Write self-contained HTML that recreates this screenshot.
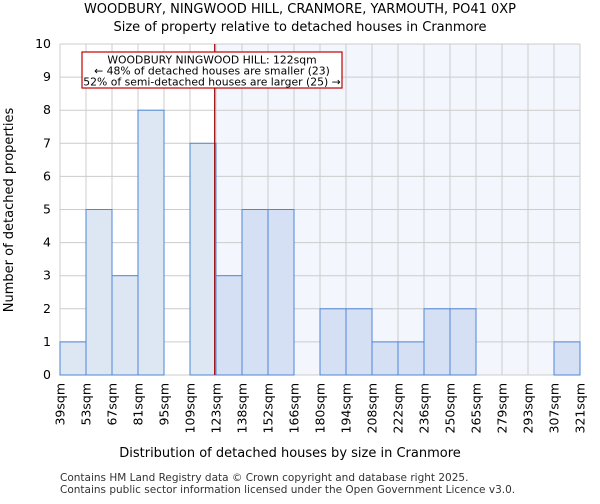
<!DOCTYPE html>
<html><head><meta charset="utf-8"><style>
body{margin:0;background:#fff;font-family:"DejaVu Sans","Liberation Sans",sans-serif;}
svg text{font-family:"DejaVu Sans","Liberation Sans",sans-serif;}
</style></head><body>
<svg id="chart" width="600" height="500">
<text x="300" y="13" text-anchor="middle" font-size="13">WOODBURY, NINGWOOD HILL, CRANMORE, YARMOUTH, PO41 0XP</text>
<text x="300" y="31" text-anchor="middle" font-size="13">Size of property relative to detached houses in Cranmore</text>
<g id="plot"></g>
<text x="290" y="457" text-anchor="middle" font-size="13">Distribution of detached houses by size in Cranmore</text>
<text transform="translate(13,210) rotate(-90)" text-anchor="middle" font-size="13">Number of detached properties</text>
<text x="60" y="481" font-size="10.5" fill="#333">Contains HM Land Registry data © Crown copyright and database right 2025.</text>
<text x="60" y="493" font-size="10.5" fill="#333">Contains public sector information licensed under the Open Government Licence v3.0.</text>
</svg>
<script>
const categories=["39sqm","53sqm","67sqm","81sqm","95sqm","109sqm","123sqm","138sqm","152sqm","166sqm","180sqm","194sqm","208sqm","222sqm","236sqm","250sqm","265sqm","279sqm","293sqm","307sqm","321sqm"];
const counts=[1,5,3,8,0,7,3,5,5,0,2,2,1,1,2,2,0,0,0,1];
const yTicks=[0,1,2,3,4,5,6,7,8,9,10];
const markerBin=5.95;
const NS="http://www.w3.org/2000/svg";
const g=document.getElementById('plot');
const L=60,R=580,T=44,B=375,n=counts.length,bw=(R-L)/n;
const xs=i=>L+i*bw, ys=v=>B-(v/10)*(B-T);
function mk(t,a,p){const e=document.createElementNS(NS,t);for(const k in a)e.setAttribute(k,a[k]);(p||g).appendChild(e);return e;}
const split=Math.ceil(markerBin);
const sh=mk('rect',{x:xs(split),y:T,width:R-xs(split),height:B-T,fill:'#f3f6fd'});


yTicks.forEach(v=>{
 const l=mk('line',{x1:L,x2:R,y1:ys(v),y2:ys(v),stroke:'#ccc'});
 
 
 const t=mk('text',{x:L-9,y:ys(v)+4,'text-anchor':'end','font-size':12.5});
 t.textContent=v;
 
 
});
categories.forEach((c,i)=>{
 const l=mk('line',{x1:xs(i),x2:xs(i),y1:T,y2:B,stroke:'#ccc'});
 
 
 const t=mk('text',{transform:`translate(${xs(i)+4.5},${B+8}) rotate(-90)`,'text-anchor':'end','font-size':12.5});
 t.textContent=c;
 
 
});
counts.forEach((v,i)=>{
 if(v<=0)return;
 const r=mk('rect',{x:xs(i),y:ys(v),width:bw,height:B-ys(v),fill:i<split?'#dde7f3':'#d5e0f4',stroke:'#4f86d6','stroke-width':1});
 
 
});
const ml=mk('line',{x1:xs(markerBin),x2:xs(markerBin),y1:T,y2:B,stroke:'#990000','stroke-width':1.2});


const box=mk('rect',{x:82,y:52,width:260,height:36,fill:'#fff',stroke:'#c00000','stroke-width':1.2});


["WOODBURY NINGWOOD HILL: 122sqm","← 48% of detached houses are smaller (23)","52% of semi-detached houses are larger (25) →"].forEach((s,k)=>{
 const t=mk('text',{x:212,y:63.5+k*11,'text-anchor':'middle','font-size':10.8});
 t.textContent=s;
 
 
});
</script>
</body></html>
